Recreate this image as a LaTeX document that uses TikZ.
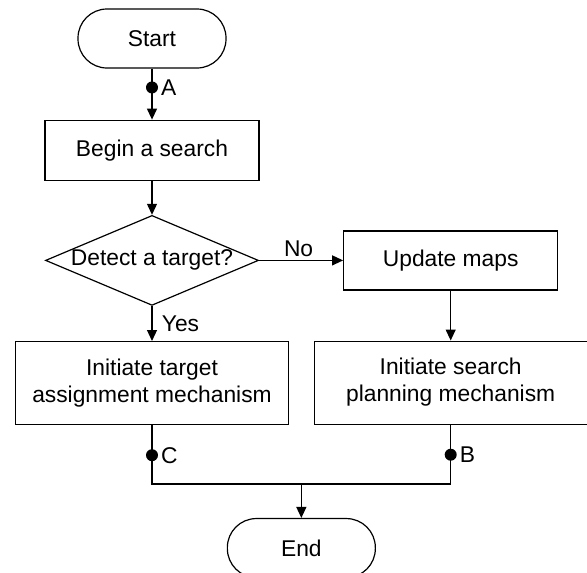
\documentclass[tikz,border=0pt]{standalone}
\usepackage{fontspec}
\setmainfont{Liberation Sans}
\usetikzlibrary{arrows.meta,calc,positioning,shapes.geometric}

\begin{document}
\begin{tikzpicture}[font=\fontsize{22.8}{27}\selectfont,line width=1.2pt,
  >={Triangle[length=11pt,width=10pt]},
  terminal/.style={draw,rounded corners=29pt,minimum width=148pt,minimum height=59pt},
  process/.style={draw,align=center,minimum width=214pt,minimum height=60pt},
  wide/.style={process,minimum width=273pt,minimum height=83pt},
  decision/.style={draw,diamond,aspect=2.37,inner sep=0pt,
    minimum width=213pt,minimum height=90pt},
  dot/.style={circle,fill,inner sep=0pt,minimum size=12pt,label distance=6pt},
  arr/.style={->}]
  \useasboundingbox (0,0) rectangle (587pt,-573pt);
  \node[terminal] (start) at (152pt,-38.5pt) {Start};
  \node[process,below=51pt of start] (search) {Begin a search};
  \node[decision,below=34pt of search] (detect) {Detect a target?};
  \node[process,right=84pt of detect,minimum height=59pt] (maps) {Update maps};
  \node[wide,below=35pt of detect] (assign) {Initiate target\\assignment mechanism};
  \node[wide,below=50pt of maps] (plan) {Initiate search\\planning mechanism};
  \coordinate (join) at ($(assign.south)!.5!(plan.south)+(0,-59pt)$);
  \node[terminal,below=34pt of join] (end) {End};
  % main line
  \draw[arr] (start) -- (search)
    node[dot,pos=.37,label={[inner sep=2pt]right:A}] (ptA) {};
  \draw[arr] (search) -- (detect);
  \draw[arr] (detect) -- (maps) node[pos=.47,above,inner sep=3pt] (no) {No};
  \draw[arr] (detect) -- (assign) node[pos=.5,right=6pt] (yes) {Yes};
  \draw[arr] (maps) -- (plan);
  % both branches meet before the end
  \draw (assign.south) |- (join) -| (plan.south);
  \node[dot,label={[inner sep=2pt]right:C}] (ptC) at ($(assign.south)+(0,-30pt)$) {};
  \node[dot,label={[inner sep=2pt]right:B}] (ptB) at ($(plan.south)+(0,-30pt)$) {};
  \draw[arr] (join) -- (end);
\end{tikzpicture}
\end{document}
